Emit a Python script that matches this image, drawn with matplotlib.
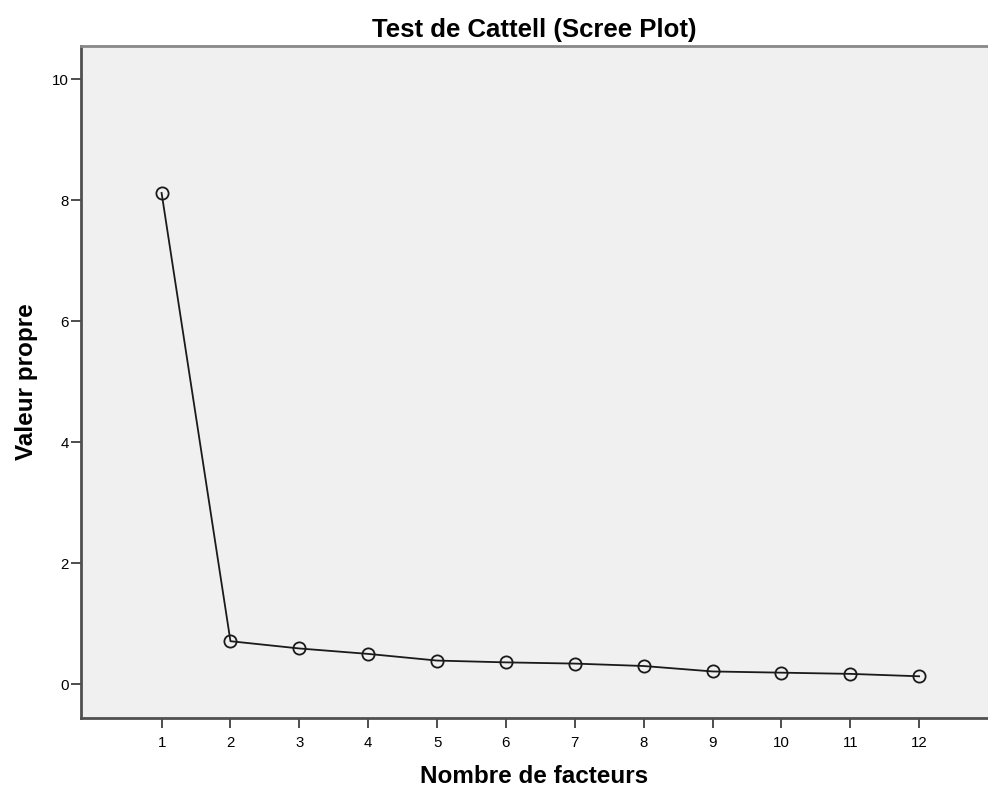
import matplotlib.pyplot as plt

plt.rcParams['font.family'] = ['Liberation Sans', 'DejaVu Sans']

# Scree plot data
facteurs = [1, 2, 3, 4, 5, 6, 7, 8, 9, 10, 11, 12]
valeurs = [8.12, 0.71, 0.59, 0.50, 0.39, 0.36, 0.34, 0.30, 0.21, 0.19, 0.17, 0.13]
yticks = [0, 2, 4, 6, 8, 10]

fig = plt.figure(figsize=(9.88, 7.9), dpi=100)
ax = fig.add_axes([0.082, 0.0911, 0.918, 0.8507])
ax.set_facecolor('#f0f0f0')

ax.plot(facteurs, valeurs, color='#1a1a1a', lw=1.3, marker='o', ms=8.8,
        mfc='none', mec='#1a1a1a', mew=1.3)

ax.set_xlim(-0.17, 13.0)
ax.set_ylim(-0.56, 10.55)
ax.set_xticks(facteurs)
ax.set_yticks(yticks)
ax.tick_params(length=7, width=1.3, color='#404040', labelsize=10.8)
ax.tick_params(axis='x', pad=6)
ax.tick_params(axis='y', pad=2)

ax.spines['right'].set_visible(False)
ax.spines['top'].set_color('#888888')
ax.spines['top'].set_linewidth(2)
for s in ['left', 'bottom']:
    ax.spines[s].set_color('#505050')
    ax.spines[s].set_linewidth(2)

ax.set_title('Test de Cattell (Scree Plot)', fontsize=18.5, fontweight='bold', pad=6.5)
ax.set_xlabel('Nombre de facteurs', fontsize=17.5, fontweight='bold', labelpad=11)
ax.set_ylabel('Valeur propre', fontsize=17.5, fontweight='bold', labelpad=10)

fig.savefig('out.png', dpi=100)
